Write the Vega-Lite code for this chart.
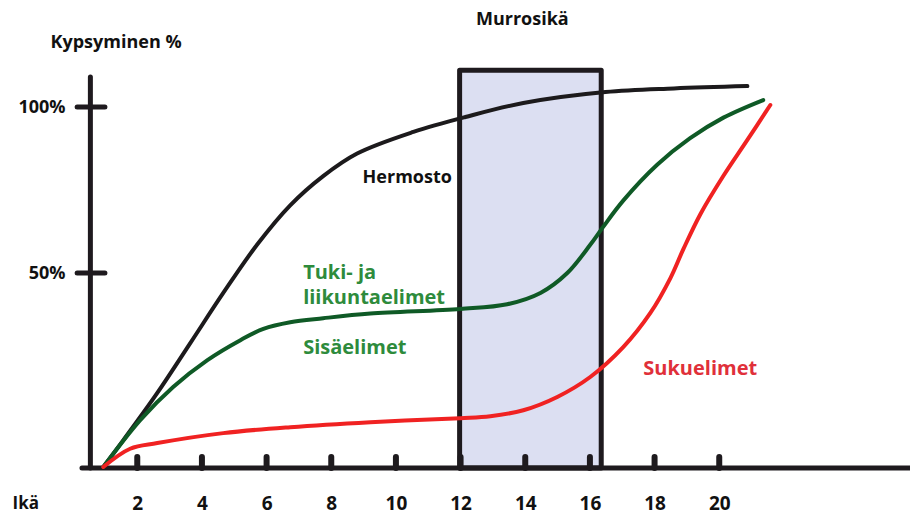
{
  "$schema": "https://vega.github.io/schema/vega-lite/v6.json",
  "width": 818,
  "height": 448,
  "autosize": "none",
  "padding": {"left": 92, "top": 20, "right": 0, "bottom": 46},
  "background": "white",
  "config": {"view": {"stroke": null}, "font": "Open Sans"},
  "datasets": {
    "curves": [
      {"organ": "Hermosto", "age": 0.95, "value": -8.4},
      {"organ": "Hermosto", "age": 1.57, "value": -0.3},
      {"organ": "Hermosto", "age": 2.62, "value": 13.9},
      {"organ": "Hermosto", "age": 3.64, "value": 28.9},
      {"organ": "Hermosto", "age": 4.66, "value": 44.0},
      {"organ": "Hermosto", "age": 5.71, "value": 58.6},
      {"organ": "Hermosto", "age": 6.73, "value": 70.4},
      {"organ": "Hermosto", "age": 7.75, "value": 79.2},
      {"organ": "Hermosto", "age": 8.8, "value": 86.0},
      {"organ": "Hermosto", "age": 10.54, "value": 92.5},
      {"organ": "Hermosto", "age": 12.15, "value": 97.0},
      {"organ": "Hermosto", "age": 13.94, "value": 101.2},
      {"organ": "Hermosto", "age": 16.48, "value": 104.5},
      {"organ": "Hermosto", "age": 18.6, "value": 105.6},
      {"organ": "Hermosto", "age": 20.87, "value": 106.3},
      {"organ": "Sisäelimet", "age": 0.95, "value": -8.4},
      {"organ": "Sisäelimet", "age": 2.09, "value": 5.7},
      {"organ": "Sisäelimet", "age": 3.11, "value": 15.7},
      {"organ": "Sisäelimet", "age": 4.17, "value": 23.8},
      {"organ": "Sisäelimet", "age": 5.19, "value": 29.8},
      {"organ": "Sisäelimet", "age": 5.9, "value": 33.2},
      {"organ": "Sisäelimet", "age": 6.73, "value": 35.2},
      {"organ": "Sisäelimet", "age": 7.75, "value": 36.4},
      {"organ": "Sisäelimet", "age": 9.21, "value": 37.8},
      {"organ": "Sisäelimet", "age": 11.99, "value": 39.2},
      {"organ": "Sisäelimet", "age": 13.44, "value": 40.6},
      {"organ": "Sisäelimet", "age": 14.47, "value": 44.0},
      {"organ": "Sisäelimet", "age": 15.3, "value": 50.0},
      {"organ": "Sisäelimet", "age": 16.01, "value": 58.5},
      {"organ": "Sisäelimet", "age": 16.41, "value": 63.9},
      {"organ": "Sisäelimet", "age": 17.03, "value": 71.8},
      {"organ": "Sisäelimet", "age": 18.08, "value": 82.6},
      {"organ": "Sisäelimet", "age": 19.1, "value": 90.6},
      {"organ": "Sisäelimet", "age": 20.13, "value": 96.8},
      {"organ": "Sisäelimet", "age": 21.36, "value": 102.1},
      {"organ": "Sukuelimet", "age": 0.95, "value": -8.4},
      {"organ": "Sukuelimet", "age": 1.78, "value": -2.9},
      {"organ": "Sukuelimet", "age": 2.62, "value": -1.2},
      {"organ": "Sukuelimet", "age": 4.66, "value": 1.8},
      {"organ": "Sukuelimet", "age": 6.73, "value": 3.6},
      {"organ": "Sukuelimet", "age": 9.21, "value": 5.1},
      {"organ": "Sukuelimet", "age": 11.99, "value": 6.3},
      {"organ": "Sukuelimet", "age": 12.92, "value": 6.9},
      {"organ": "Sukuelimet", "age": 13.94, "value": 8.7},
      {"organ": "Sukuelimet", "age": 14.99, "value": 12.7},
      {"organ": "Sukuelimet", "age": 16.01, "value": 18.7},
      {"organ": "Sukuelimet", "age": 17.03, "value": 27.7},
      {"organ": "Sukuelimet", "age": 17.87, "value": 38.0},
      {"organ": "Sukuelimet", "age": 18.49, "value": 48.5},
      {"organ": "Sukuelimet", "age": 18.89, "value": 57.2},
      {"organ": "Sukuelimet", "age": 19.42, "value": 67.8},
      {"organ": "Sukuelimet", "age": 20.13, "value": 79.3},
      {"organ": "Sukuelimet", "age": 20.87, "value": 90.1},
      {"organ": "Sukuelimet", "age": 21.58, "value": 100.6}
    ],
    "leftLabels": [
      {"text": "Tuki- ja", "age": 7.13, "value": 50.0, "kind": "green"},
      {"text": "liikuntaelimet", "age": 7.13, "value": 42.5, "kind": "green"},
      {"text": "Sisäelimet", "age": 7.13, "value": 27.4, "kind": "green"},
      {"text": "Sukuelimet", "age": 17.65, "value": 21.1, "kind": "red"}
    ]
  },
  "layer": [
    {
      "data": {"values": [{"start": 11.97, "end": 16.35, "bottom": -8.7, "top": 111.1}]},
      "mark": {"type": "rect", "fill": "#dcdff2", "stroke": "#1e1a1e", "strokeWidth": 5, "strokeJoin": "round"},
      "encoding": {
        "x": {
          "field": "start", "type": "quantitative",
          "scale": {"domain": [0.6, 25.9], "nice": false, "zero": false},
          "axis": {
            "title": "Ikä", "titleFont": "Open Sans", "titleFontSize": 17, "titleFontWeight": "bold", "titleColor": "#111",
            "titleX": -80, "titleY": 35, "titleAlign": "left", "titleBaseline": "middle", "titleAnchor": null,
            "values": [2, 4, 6, 8, 10, 12, 14, 16, 18, 20],
            "domain": false, "ticks": false, "grid": false,
            "labelFont": "Open Sans", "labelFontSize": 19, "labelFontWeight": "bold", "labelColor": "#111",
            "labelBaseline": "middle", "labelPadding": 35, "labelFlush": false, "labelOverlap": false
          }
        },
        "x2": {"field": "end"},
        "y": {
          "field": "bottom", "type": "quantitative",
          "scale": {"domain": [-8.7, 126.2], "nice": false, "zero": false},
          "axis": {
            "title": "Kypsyminen %", "titleFont": "Open Sans", "titleFontSize": 18, "titleFontWeight": "bold", "titleColor": "#111",
            "titleAngle": 0, "titleX": -42, "titleY": 22, "titleAlign": "left", "titleBaseline": "middle", "titleAnchor": null,
            "values": [50, 100], "labelExpr": "datum.value + '%'",
            "domain": false, "ticks": false, "grid": false,
            "labelFont": "Open Sans", "labelFontSize": 18, "labelFontWeight": "bold", "labelColor": "#111",
            "labelPadding": 27, "labelBaseline": "middle", "labelAlign": "right"
          }
        },
        "y2": {"field": "top"}
      }
    },
    {
      "data": {"values": [{}]},
      "mark": {"type": "rule", "color": "#1e1a1e", "strokeWidth": 5, "strokeCap": "round"},
      "encoding": {
        "x": {"datum": 0.29, "type": "quantitative"},
        "x2": {"datum": 25.9},
        "y": {"datum": -8.7, "type": "quantitative"}
      }
    },
    {
      "data": {"values": [{}]},
      "mark": {"type": "rule", "color": "#1e1a1e", "strokeWidth": 5, "strokeCap": "round"},
      "encoding": {
        "x": {"datum": 0.55, "type": "quantitative"},
        "y": {"datum": -8.7, "type": "quantitative"},
        "y2": {"datum": 109}
      }
    },
    {
      "data": {"values": [{"pct": 50}, {"pct": 100}]},
      "mark": {"type": "rule", "color": "#1e1a1e", "strokeWidth": 5, "strokeCap": "round"},
      "encoding": {
        "x": {"datum": 0.14, "type": "quantitative"},
        "x2": {"datum": 1.0},
        "y": {"field": "pct", "type": "quantitative"}
      }
    },
    {
      "data": {"values": [{"tick": 2}, {"tick": 4}, {"tick": 6}, {"tick": 8}, {"tick": 10}, {"tick": 12}, {"tick": 14}, {"tick": 16}, {"tick": 18}, {"tick": 20}]},
      "mark": {"type": "rule", "color": "#1e1a1e", "strokeWidth": 6, "strokeCap": "round"},
      "encoding": {
        "x": {"field": "tick", "type": "quantitative"},
        "y": {"datum": -8.7, "type": "quantitative"},
        "y2": {"datum": -5.4}
      }
    },
    {
      "data": {"name": "curves"},
      "mark": {"type": "line", "strokeWidth": 4, "interpolate": "catmull-rom", "strokeCap": "round", "strokeJoin": "round"},
      "encoding": {
        "x": {"field": "age", "type": "quantitative"},
        "y": {"field": "value", "type": "quantitative"},
        "color": {
          "field": "organ", "type": "nominal",
          "scale": {"domain": ["Hermosto", "Sisäelimet", "Sukuelimet"], "range": ["#1c1a1c", "#0f5a26", "#f02222"]},
          "legend": null
        },
        "order": {"field": "age", "type": "quantitative"}
      }
    },
    {
      "data": {"name": "leftLabels"},
      "mark": {"type": "text", "font": "Open Sans", "fontWeight": "bold", "baseline": "middle", "align": "left", "fontSize": 20},
      "encoding": {
        "x": {"field": "age", "type": "quantitative"},
        "y": {"field": "value", "type": "quantitative"},
        "text": {"field": "text"},
        "color": {
          "field": "kind", "type": "nominal",
          "scale": {"domain": ["green", "red"], "range": ["#2e8b3c", "#e0303a"]},
          "legend": null
        }
      }
    },
    {
      "data": {"values": [{"text": "Hermosto", "age": 10.35, "value": 78.6}]},
      "mark": {"type": "text", "font": "Open Sans", "fontWeight": "bold", "baseline": "middle", "align": "center", "fontSize": 18, "color": "#111111"},
      "encoding": {
        "x": {"field": "age", "type": "quantitative"},
        "y": {"field": "value", "type": "quantitative"},
        "text": {"field": "text"}
      }
    },
    {
      "data": {"values": [{"text": "Murrosikä", "age": 13.91, "value": 126.2}]},
      "mark": {"type": "text", "font": "Open Sans", "fontWeight": "bold", "baseline": "middle", "align": "center", "fontSize": 18, "color": "#111111"},
      "encoding": {
        "x": {"field": "age", "type": "quantitative"},
        "y": {"field": "value", "type": "quantitative"},
        "text": {"field": "text"}
      }
    }
  ],
  "resolve": {"scale": {"color": "independent"}}
}
